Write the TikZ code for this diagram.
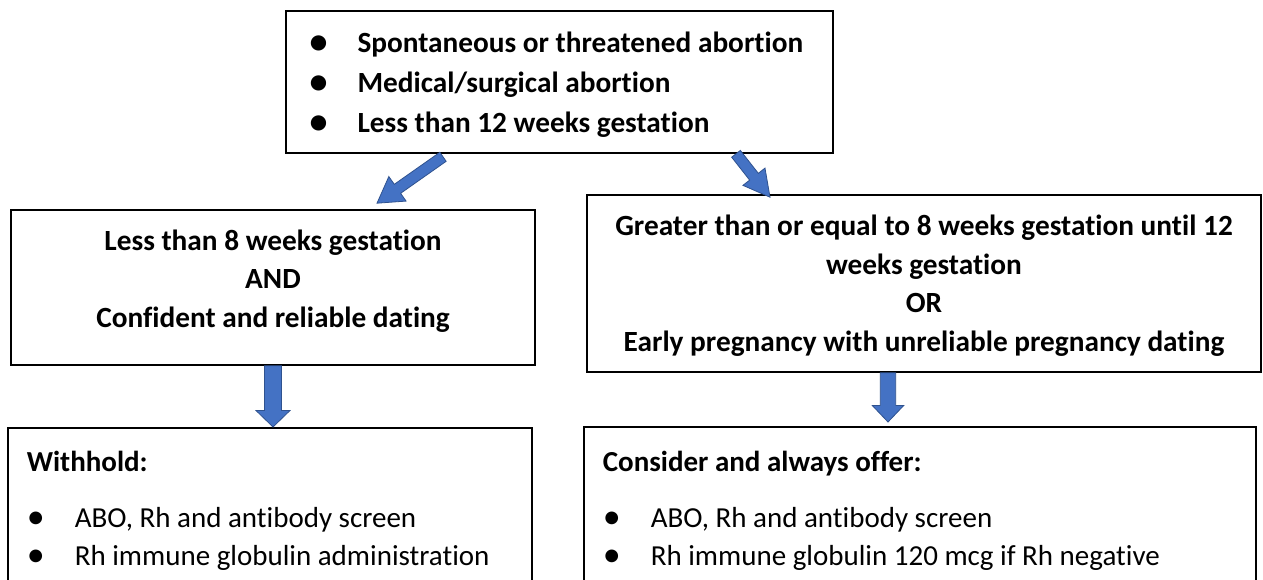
\documentclass[tikz,border=0pt]{standalone}
\usepackage{fontspec}
\setmainfont{Carlito}[Ligatures=NoCommon]
\usetikzlibrary{calc}
\definecolor{arrowblue}{HTML}{4472C4}
\definecolor{arrowedge}{HTML}{2F528F}
\newcommand\bul{\makebox[48pt][l]{\fontsize{36}{36}\selectfont\raisebox{-1pt}{•}}}
% block arrow: #1 start, #2 tip, #3 half shaft, #4 half head, #5 head length
\newcommand\blockarr[5]{%
  \path ($(#2)!#5!(#1)$) coordinate (ah);
  \draw[blockarrow] ($(#1)!#3!90:(#2)$) -- ($(ah)!#3!-90:(#1)$) -- ($(ah)!#4!-90:(#1)$) -- (#2)
    -- ($(ah)!#4!90:(#1)$) -- ($(ah)!#3!90:(#1)$) -- ($(#1)!#3!-90:(#2)$) -- cycle;}
\begin{document}
\begin{tikzpicture}[x=1pt,y=-1pt,
  box/.style={draw=black, line width=1.6pt, rectangle, inner sep=0pt},
  headfont/.style={font=\bfseries\fontsize{29.3}{40}\selectfont},
  midfont/.style={font=\bfseries\fontsize{29.3}{38.5}\selectfont},
  bodyfont/.style={font=\fontsize{29}{38}\selectfont},
  blockarrow/.style={fill=arrowblue, draw=arrowedge, line width=0.8pt, line join=miter}]
\useasboundingbox (0,0) rectangle (1263,580);
\clip (0,0) rectangle (1263,580);
\fill[white] (0,0) rectangle (1263,580);

\node[box, headfont, minimum width=547pt, minimum height=142pt, text width=500pt, align=flush left] (top) at (559.5,82)
  {\rule{0pt}{30pt}\bul Spontaneous or threatened abortion\\
   \bul Medical/surgical abortion\\
   \bul Less than 12 weeks gestation\rule[-8pt]{0pt}{8pt}};

\node[box, midfont, minimum width=524pt, minimum height=155pt, align=center] (lt) at (273,287.5)
  {\rule{0pt}{27pt}Less than 8 weeks gestation\\AND\\Confident and reliable dating\rule[-25pt]{0pt}{25pt}};

\node[box, midfont, minimum width=674pt, minimum height=177pt, align=center] (rt) at (924,283.5)
  {\rule{0pt}{29.5pt}Greater than or equal to 8 weeks gestation until 12\\weeks gestation\\OR\\Early pregnancy with unreliable pregnancy dating\rule[-9.5pt]{0pt}{9.5pt}};

\node[box, bodyfont, anchor=north west, inner xsep=19pt, inner ysep=0pt, text width=486pt, align=flush left] (wb) at (7,427)
  {\rule{0pt}{44pt}\textbf{Withhold:}\\[18pt]
   \bul ABO, Rh and antibody screen\\
   \bul Rh immune globulin administration\rule[-150pt]{0pt}{150pt}};

\node[box, bodyfont, anchor=north west, inner xsep=19pt, inner ysep=0pt, text width=634pt, align=flush left] (cb) at (583,426)
  {\rule{0pt}{45pt}\textbf{Consider and always offer:}\\[18pt]
   \bul ABO, Rh and antibody screen\\
   \bul Rh immune globulin 120 mcg if Rh negative\rule[-150pt]{0pt}{150pt}};

\coordinate (a1s) at ($(top.south -| 443,0)+(0,3)$);
\coordinate (a1e) at ($(lt.north -| 377,0)+(0,-6)$);
\coordinate (a2s) at ($(top.south -| 736,0)+(0,0)$);
\coordinate (a2e) at ($(rt.north -| 770,0)+(0,3)$);
\coordinate (a3s) at (lt.south);
\coordinate (a3e) at (wb.north -| lt.south);
\coordinate (a4s) at (rt.south -| 888,0);
\coordinate (a4e) at ($(cb.north -| 888,0)+(0,-4)$);

\blockarr{a1s}{a1e}{5.5pt}{15pt}{25pt}
\blockarr{a2s}{a2e}{5.5pt}{14pt}{26pt}
\blockarr{a3s}{a3e}{8.5pt}{17pt}{16.5pt}
\blockarr{a4s}{a4e}{7.7pt}{15.7pt}{16.5pt}
\end{tikzpicture}
\end{document}
